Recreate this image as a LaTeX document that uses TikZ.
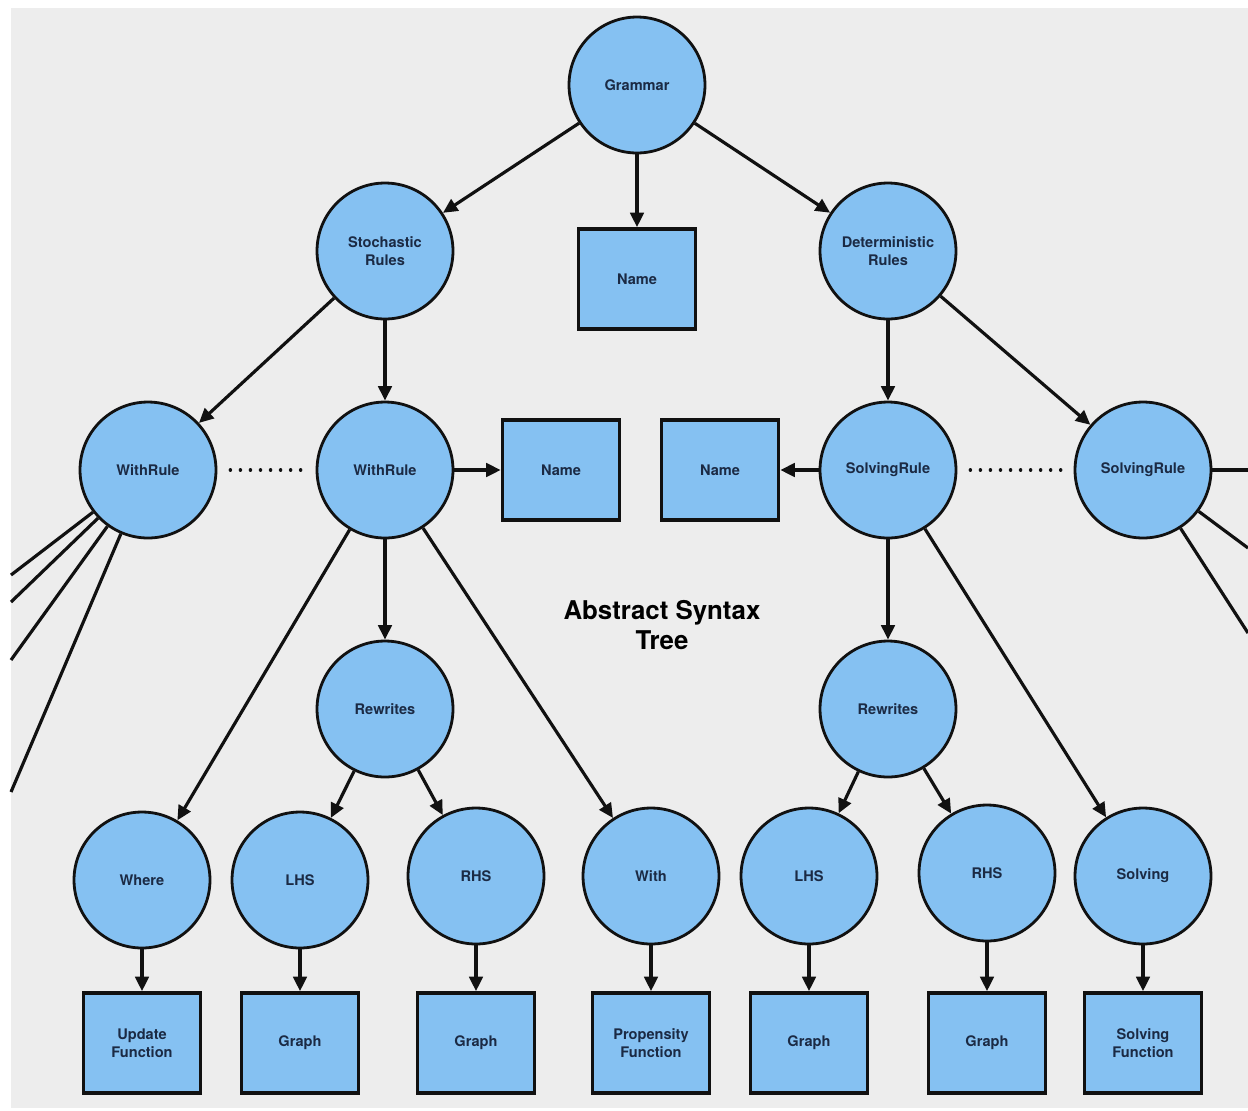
\documentclass[tikz,border=0pt]{standalone}
\usepackage{fontspec}
\setmainfont{TeX Gyre Heros}
\usepackage{xcolor}
\usepackage{tikz}
\usetikzlibrary{positioning,arrows.meta}
\definecolor{cPanel}{HTML}{EDEDED}
\definecolor{cNode}{HTML}{85C1F2}
\definecolor{cText}{HTML}{1B2A44}
\definecolor{cLine}{HTML}{111111}
\tikzset{
  ast/label/.style={font=\fontsize{8.3}{10.2}\selectfont\bfseries, text=cText, align=center},
  ast/node/.style ={ast/label, circle, draw=cLine, line width=1.6pt, fill=cNode,
                    minimum size=2.72cm, inner sep=0pt},
  ast/leaf/.style ={ast/label, rectangle, draw=cLine, line width=2.1pt, fill=cNode,
                    minimum width=2.34cm, minimum height=2.0cm, inner sep=0pt},
  ast/arr/.style  ={-{Triangle[length=2.9mm, width=2.7mm]}, line width=1.8pt, cLine},
  ast/stub/.style ={line width=1.8pt, cLine},
  ast/dots/.style ={line width=2pt, cLine, line cap=round,
                    dash pattern=on 0.01pt off 5.7pt,
                    shorten <=0.26cm, shorten >=0.16cm},
  ast/title/.style={font=\fontsize{14.7}{17.6}\selectfont\bfseries, align=center}
}

\begin{document}
\begin{tikzpicture}[x=0.02cm, y=-0.02cm]
    % --- canvas ---
    \useasboundingbox[fill=white] (0,0) rectangle (1248,1110);
    \fill[cPanel] (11,8) rectangle (1248,1108);

    % --- top ---
    \node[ast/node] (gram) at (637,85) {Grammar};
    \node[ast/node] (stoch) at (385,251) {Stochastic\\Rules};
    \node[ast/leaf] (name0) at (637,279) {Name};
    \node[ast/node] (det) at (888,251) {Deterministic\\Rules};

    % --- rule level ---
    \node[ast/node] (wrL) at (148,470) {WithRule};
    \node[ast/node] (wrM) at (385,470) {WithRule};
    \node[ast/leaf] (nameL) at (561,470) {Name};
    \node[ast/leaf] (nameR) at (720,470) {Name};
    \node[ast/node] (srM) at (888,470) {SolvingRule};
    \node[ast/node] (srR) at (1143,470) {SolvingRule};

    % --- rewrites ---
    \node[ast/node] (rwL) at (385,709) {Rewrites};
    \node[ast/node] (rwR) at (888,709) {Rewrites};

    \node[ast/title] (ast) at (662,625) {Abstract Syntax\\Tree};

    % --- bottom circles ---
    \node[ast/node] (where) at (142,880) {Where};
    \node[ast/node] (lhsL) at (300,880) {LHS};
    \node[ast/node] (rhsL) at (476,876) {RHS};
    \node[ast/node] (with) at (651,876) {With};
    \node[ast/node] (lhsR) at (809,876) {LHS};
    \node[ast/node] (rhsR) at (987,873) {RHS};
    \node[ast/node] (solv) at (1143,876) {Solving};

    % --- bottom boxes ---
    \node[ast/leaf] (upd) at (142,1043) {Update\\Function};
    \node[ast/leaf] (grA) at (300,1043) {Graph};
    \node[ast/leaf] (grB) at (476,1043) {Graph};
    \node[ast/leaf] (prop) at (651,1043) {Propensity\\Function};
    \node[ast/leaf] (grC) at (809,1043) {Graph};
    \node[ast/leaf] (grD) at (987,1043) {Graph};
    \node[ast/leaf] (sfun) at (1143,1043) {Solving\\Function};

    % --- arrows ---
    \draw[ast/arr] (gram) -- (stoch);
    \draw[ast/arr] (gram) -- (name0);
    \draw[ast/arr] (gram) -- (det);
    \draw[ast/arr] (stoch) -- (wrL);
    \draw[ast/arr] (stoch) -- (wrM);
    \draw[ast/arr] (det) -- (srM);
    \draw[ast/arr] (det) -- (srR);
    \draw[ast/arr] (wrM) -- (nameL);
    \draw[ast/arr] (srM) -- (nameR);
    \draw[ast/arr] (wrM) -- (where);
    \draw[ast/arr] (wrM) -- (rwL);
    \draw[ast/arr] (wrM) -- (with);
    \draw[ast/arr] (rwL) -- (lhsL);
    \draw[ast/arr] (rwL) -- (rhsL);
    \draw[ast/arr] (srM) -- (rwR);
    \draw[ast/arr] (srM) -- (solv);
    \draw[ast/arr] (rwR) -- (lhsR);
    \draw[ast/arr] (rwR) -- (rhsR);
    \draw[ast/arr] (where) -- (upd);
    \draw[ast/arr] (lhsL) -- (grA);
    \draw[ast/arr] (rhsL) -- (grB);
    \draw[ast/arr] (with) -- (prop);
    \draw[ast/arr] (lhsR) -- (grC);
    \draw[ast/arr] (rhsR) -- (grD);
    \draw[ast/arr] (solv) -- (sfun);

    % --- siblings left out ---
    \draw[ast/dots] (wrL) -- (wrM);
    \draw[ast/dots] (srM) -- (srR);

    % --- edges running off the panel ---
    \coordinate (offL1) at (11,575);
    \coordinate (offL2) at (11,602);
    \coordinate (offL3) at (11,660);
    \coordinate (offL4) at (11,792);
    \coordinate (offR1) at (1248,470);
    \coordinate (offR2) at (1248,548);
    \coordinate (offR3) at (1248,633);
    \foreach \e in {offL1,offL2,offL3,offL4}
      \draw[ast/stub] (wrL) -- (\e);
    \foreach \e in {offR1,offR2,offR3}
      \draw[ast/stub] (srR) -- (\e);
\end{tikzpicture}
\end{document}
